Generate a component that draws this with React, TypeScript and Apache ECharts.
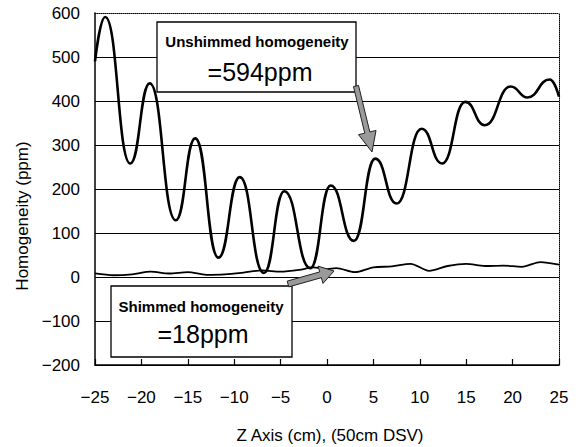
import React, { useEffect, useRef } from "react";
import * as echarts from "echarts";

// Unshimmed field: peaks/troughs
const unshimmedX = [-25, -23.9, -21.2, -19.1, -16.3, -14.2, -11.7, -9.4, -6.8, -4.6, -1.8, 0.4, 2.9, 5.2, 7.5, 10.2, 12.4, 14.9, 17.0, 19.8, 21.6, 24.0, 25];
const unshimmedY = [490, 591, 258, 440, 129, 315, 44, 227, 9, 195, 20, 208, 82, 269, 167, 337, 258, 398, 345, 433, 408, 449, 410];

// Shimmed field
const shimmedX = [-25, -23, -21, -19, -17, -15, -13, -11, -9, -7, -5, -3, -1.5, 0, 1, 3, 5, 7, 9, 11, 13, 15, 17, 19, 21, 23, 25];
const shimmedY = [8, 4, 6, 12, 8, 11, 5, 6, 10, 15, 12, 16, 22, 18, 20, 11, 22, 24, 30, 14, 25, 30, 25, 26, 23, 34, 28];

const xTicks = { min: -25, max: 25, step: 5 };
const yTicks = { min: -200, max: 600, step: 100 };

const fmt = (v: number) => (v < 0 ? "\u2212" + Math.abs(v) : String(v));

function arrow(tail: [number, number], tip: [number, number], shaftHalf: number, headLen: number, headHalf: number) {
  const dx = tip[0] - tail[0];
  const dy = tip[1] - tail[1];
  const len = Math.hypot(dx, dy);
  const ux = dx / len, uy = dy / len;
  const nx = -uy, ny = ux;
  const bx = tip[0] - ux * headLen, by = tip[1] - uy * headLen;
  return [
    [tail[0] + nx * shaftHalf, tail[1] + ny * shaftHalf],
    [bx + nx * shaftHalf, by + ny * shaftHalf],
    [bx + nx * headHalf, by + ny * headHalf],
    [tip[0], tip[1]],
    [bx - nx * headHalf, by - ny * headHalf],
    [bx - nx * shaftHalf, by - ny * shaftHalf],
    [tail[0] - nx * shaftHalf, tail[1] - ny * shaftHalf],
  ];
}

export default function App() {
  const ref = useRef<HTMLDivElement>(null);
  useEffect(() => {
    if (!ref.current) return;
    const chart = echarts.init(ref.current, undefined, { renderer: "svg" });
    const font = "'Liberation Sans', Arial, sans-serif";
    const nLines = (yTicks.max - yTicks.min) / yTicks.step + 1;
    const gridColors = Array.from({ length: nLines }, (_, i) => (i === nLines - 1 ? "rgba(0,0,0,0)" : "#000"));
    chart.setOption({
      animation: false,
      backgroundColor: "#fff",
      grid: { left: 95, right: 25, top: 13, bottom: 82 },
      xAxis: [
        {
          type: "value",
          min: xTicks.min,
          max: xTicks.max,
          interval: xTicks.step,
          axisLine: { show: true, onZero: false, lineStyle: { color: "#000", width: 1.5 } },
          axisTick: { show: true, inside: true, length: 6, lineStyle: { color: "#000", width: 1.2 } },
          axisLabel: { formatter: fmt, color: "#000", fontSize: 17, fontFamily: font, margin: 24 },
          splitLine: { show: false },
        },
        {
          type: "value",
          position: "top",
          min: xTicks.min,
          max: xTicks.max,
          axisLine: { show: true, onZero: false, lineStyle: { color: "#000", width: 1, type: [1, 1] } },
          axisTick: { show: false },
          axisLabel: { show: false },
          splitLine: { show: false },
        },
      ],
      yAxis: [
        {
          type: "value",
          min: yTicks.min,
          max: yTicks.max,
          interval: yTicks.step,
          axisLine: { show: true, onZero: false, lineStyle: { color: "#000", width: 1.5 } },
          axisTick: { show: false },
          axisLabel: { formatter: fmt, color: "#000", fontSize: 17, fontFamily: font, margin: 15 },
          splitLine: { show: true, lineStyle: { color: gridColors, width: 1.1 } },
        },
        {
          type: "value",
          position: "right",
          min: yTicks.min,
          max: yTicks.max,
          axisLine: { show: true, onZero: false, lineStyle: { color: "#000", width: 1, type: [1, 1] } },
          axisTick: { show: false },
          axisLabel: { show: false },
          splitLine: { show: false },
        },
      ],
      series: [
        {
          name: "Unshimmed",
          type: "line",
          data: unshimmedX.map((x, i) => [x, unshimmedY[i]]),
          smooth: 0.5,
          smoothMonotone: "x",
          showSymbol: false,
          lineStyle: { color: "#000", width: 2.6 },
          z: 3,
        },
        {
          name: "Shimmed",
          type: "line",
          data: shimmedX.map((x, i) => [x, shimmedY[i]]),
          smooth: 0.3,
          showSymbol: false,
          lineStyle: { color: "#000", width: 1.8 },
          z: 3,
        },
      ],
      graphic: [
        { type: "rect", z: 100, shape: { x: 157, y: 22, width: 199, height: 70 }, style: { fill: "#fff", stroke: "#000", lineWidth: 1.3 } },
        { type: "text", z: 101, x: 257, y: 41, style: { text: "Unshimmed homogeneity", fill: "#000", font: "bold 15px " + font, textAlign: "center", textVerticalAlign: "middle" } },
        { type: "text", z: 101, x: 260, y: 72, style: { text: "=594ppm", fill: "#000", font: "25px " + font, textAlign: "center", textVerticalAlign: "middle" } },
        { type: "rect", z: 100, shape: { x: 111, y: 286, width: 181, height: 71 }, style: { fill: "#fff", stroke: "#000", lineWidth: 1.3 } },
        { type: "text", z: 101, x: 201, y: 306, style: { text: "Shimmed homogeneity", fill: "#000", font: "bold 15px " + font, textAlign: "center", textVerticalAlign: "middle" } },
        { type: "text", z: 101, x: 203, y: 334, style: { text: "=18ppm", fill: "#000", font: "25px " + font, textAlign: "center", textVerticalAlign: "middle" } },
        { type: "polygon", z: 102, shape: { points: arrow([356, 86], [372, 152], 2.6, 20, 9) }, style: { fill: "#9a9a9a", stroke: "#222", lineWidth: 1 } },
        { type: "polygon", z: 102, shape: { points: arrow([288, 284], [334, 271], 3, 14, 9) }, style: { fill: "#9a9a9a", stroke: "#222", lineWidth: 1 } },
        { type: "text", z: 101, x: 22, y: 216, rotation: Math.PI / 2, style: { text: "Homogeneity (ppm)", fill: "#000", font: "17px " + font, textAlign: "center", textVerticalAlign: "middle" } },
        { type: "text", z: 101, x: 330, y: 435, style: { text: "Z Axis (cm), (50cm DSV)", fill: "#000", font: "17px " + font, textAlign: "center", textVerticalAlign: "middle" } },
      ],
    });
    return () => chart.dispose();
  }, []);
  return <div ref={ref} style={{ width: 584, height: 447, position: "absolute", left: 0, top: 0 }} />;
}
